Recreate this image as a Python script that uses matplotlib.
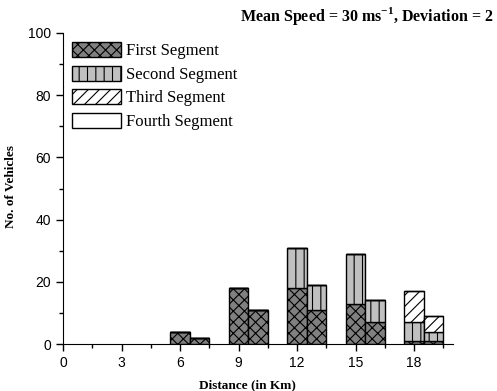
import matplotlib
matplotlib.use("Agg")
import matplotlib.pyplot as plt
from matplotlib.ticker import MultipleLocator

# distance bins (km) and vehicle counts per road segment
distance = [6, 7, 9, 10, 12, 13, 15, 16, 18, 19]
first_seg = [4, 2, 18, 11, 18, 11, 13, 7, 1, 1]
second_seg = [0, 0, 0, 0, 13, 8, 16, 7, 6, 3]
third_seg = [0, 0, 0, 0, 0, 0, 0, 0, 10, 5]
fourth_seg = [0, 0, 0, 0, 0, 0, 0, 0, 0, 0]

plt.rcParams['hatch.linewidth'] = 0.8
plt.rcParams['mathtext.fontset'] = 'custom'
plt.rcParams['mathtext.bf'] = 'Liberation Serif:bold'
plt.rcParams['mathtext.rm'] = 'Liberation Serif'

fig = plt.figure(figsize=(4.97, 3.91), dpi=100)
ax = fig.add_axes([63 / 497, 1 - 344 / 391, 390 / 497, 311 / 391])

bottom = [0] * len(distance)
styles = [
    ("First Segment", first_seg, "#808080", "xxx"),
    ("Second Segment", second_seg, "#c0c0c0", "||"),
    ("Third Segment", third_seg, "white", "///"),
    ("Fourth Segment", fourth_seg, "white", ""),
]
for label, vals, col, hatch in styles:
    ax.bar(distance, vals, width=1.0, bottom=bottom, color=col,
           edgecolor="black", linewidth=1.0, hatch=hatch, label=label)
    bottom = [b + v for b, v in zip(bottom, vals)]

ax.set_xlim(0, 20)
ax.set_ylim(0, 100)
ax.xaxis.set_major_locator(MultipleLocator(3))
ax.xaxis.set_minor_locator(MultipleLocator(1.5))
ax.yaxis.set_major_locator(MultipleLocator(20))
ax.yaxis.set_minor_locator(MultipleLocator(10))
ax.tick_params(which="both", direction="out", width=1)
ax.tick_params(which="major", length=5, labelsize=10)
ax.tick_params(which="minor", length=3)
for lab in ax.get_xticklabels() + ax.get_yticklabels():
    lab.set_family("Liberation Sans")

ax.spines["top"].set_visible(False)
ax.spines["right"].set_visible(False)

ax.set_xlabel("Distance (in Km)", family="Liberation Serif",
              fontweight="bold", fontsize=9.5)
ax.set_ylabel("No. of Vehicles", family="Liberation Serif",
              fontweight="bold", fontsize=9.5)
ax.xaxis.set_label_coords(0.474, -0.115)
ax.yaxis.set_label_coords(-0.118, 0.505)

fig.text(493 / 497, 1 - 16 / 391, r"Mean Speed = 30 ms$^{\mathbf{-1}}$, Deviation = 2",
         family="Liberation Serif", fontweight="bold", fontsize=11.5,
         ha="right", va="center")

leg = ax.legend(loc="upper left", bbox_to_anchor=(0.0, 1.0), frameon=False,
                prop={"family": "Liberation Serif", "size": 12},
                handlelength=2.9, handleheight=1.0, handletextpad=0.3,
                labelspacing=0.38, borderaxespad=0.15)

fig.savefig("out.png", dpi=100)
